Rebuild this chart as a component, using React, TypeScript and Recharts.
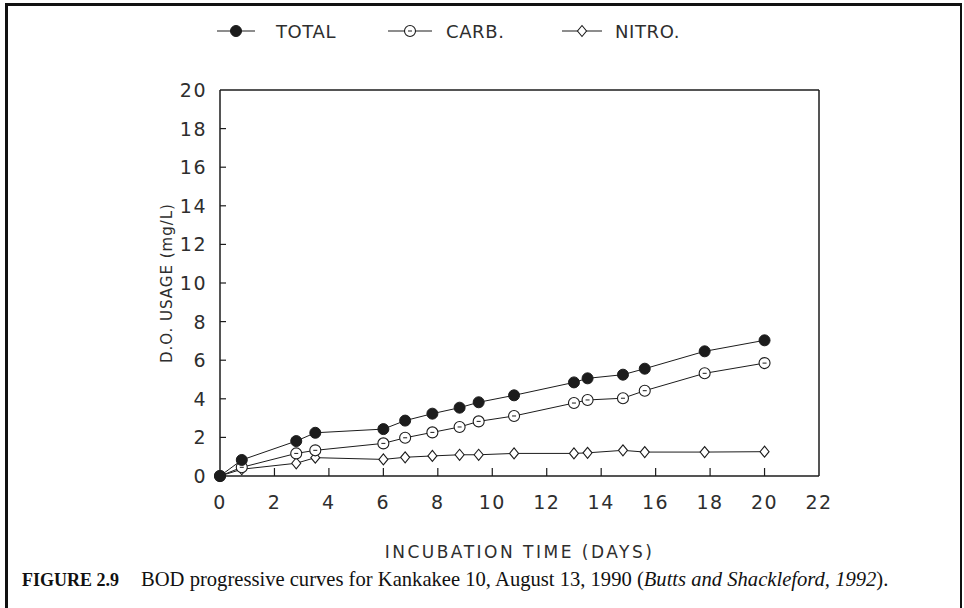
import { LineChart, Line, XAxis, YAxis, ReferenceLine, Label } from "recharts";

const days = [0, 0.8, 2.8, 3.5, 6.0, 6.8, 7.8, 8.8, 9.5, 10.8, 13.0, 13.5, 14.8, 15.6, 17.8, 20.0];
const total = [0, 0.83, 1.81, 2.24, 2.43, 2.87, 3.23, 3.54, 3.82, 4.18, 4.85, 5.06, 5.25, 5.56, 6.46, 7.03];
const carb = [0, 0.45, 1.17, 1.33, 1.69, 1.98, 2.26, 2.54, 2.83, 3.11, 3.78, 3.94, 4.03, 4.42, 5.32, 5.85];
const nitro = [0, 0.35, 0.66, 0.95, 0.86, 0.97, 1.04, 1.1, 1.1, 1.17, 1.17, 1.2, 1.33, 1.24, 1.24, 1.26];

const xTicks = [0, 2, 4, 6, 8, 10, 12, 14, 16, 18, 20, 22];
const yTicks = [0, 2, 4, 6, 8, 10, 12, 14, 16, 18, 20];

const seriesNames = ["TOTAL", "CARB.", "NITRO."];

const data = days.map((d, i) => ({
  day: d,
  total: total[i],
  carb: carb[i],
  nitro: nitro[i],
}));

const INK = "#1c1c1c";
const TXT = "#2e2e2e";
const FONT = "'DejaVu Sans', sans-serif";

function FilledDot(props: any) {
  const { cx, cy } = props;
  if (cx == null || cy == null) return null;
  return <circle cx={cx} cy={cy} r={5.5} fill={INK} stroke={INK} />;
}

function OpenDot(props: any) {
  const { cx, cy } = props;
  if (cx == null || cy == null) return null;
  return (
    <g>
      <circle cx={cx} cy={cy} r={5.5} fill="#fff" stroke={INK} strokeWidth={1.1} />
      <line x1={cx - 2} y1={cy} x2={cx + 2} y2={cy} stroke={INK} strokeWidth={1} />
    </g>
  );
}

function Diamond(props: any) {
  const { cx, cy } = props;
  if (cx == null || cy == null) return null;
  return (
    <path
      d={`M${cx},${cy - 5.5} L${cx + 4.5},${cy} L${cx},${cy + 5.5} L${cx - 4.5},${cy} Z`}
      fill="#fff"
      stroke={INK}
      strokeWidth={1.1}
    />
  );
}

function XTick(props: any) {
  const { x, y, payload } = props;
  const v = payload.value;
  return (
    <g>
      {v !== 0 && v !== 22 && (
        <line x1={x} y1={y} x2={x} y2={y - 8} stroke={INK} strokeWidth={1.2} />
      )}
      <text x={x} y={y + 33} textAnchor="middle" fontSize={19} fontFamily={FONT} fill={TXT} letterSpacing={1.5}>
        {v}
      </text>
    </g>
  );
}

function YTick(props: any) {
  const { x, y, payload } = props;
  const v = payload.value;
  return (
    <g>
      {v !== 0 && v !== 20 && (
        <line x1={x} y1={y} x2={x + 6} y2={y} stroke={INK} strokeWidth={1.2} />
      )}
      <text x={x - 13} y={y + 7} textAnchor="end" fontSize={19} fontFamily={FONT} fill={TXT} letterSpacing={1.5}>
        {v}
      </text>
    </g>
  );
}

function LegendRow() {
  const items = [
    { name: seriesNames[0], x1: 217, x2: 255, tx: 276, dot: FilledDot },
    { name: seriesNames[1], x1: 388, x2: 432, tx: 446, dot: OpenDot },
    { name: seriesNames[2], x1: 562, x2: 602, tx: 615, dot: Diamond },
  ];
  const cy = 31;
  return (
    <svg width={964} height={60} style={{ position: "absolute", left: 0, top: 0 }}>
      {items.map((it) => {
        const Dot = it.dot;
        return (
          <g key={it.name}>
            <line x1={it.x1} y1={cy} x2={it.x2} y2={cy} stroke={INK} strokeWidth={1.1} />
            <Dot cx={(it.x1 + it.x2) / 2} cy={cy} />
            <text x={it.tx} y={cy + 7} fontSize={18} fontFamily={FONT} fill={TXT} letterSpacing={0.6}>
              {it.name}
            </text>
          </g>
        );
      })}
    </svg>
  );
}

export default function App() {
  return (
    <div style={{ position: "absolute", left: 0, top: 0, width: 964, height: 608, background: "#fff", overflow: "hidden" }}>
      <div
        style={{
          position: "absolute",
          left: 5,
          top: 3,
          width: 952,
          height: 620,
          borderLeft: "3px solid #111",
          borderTop: "3px solid #111",
          borderRight: "2px solid #111",
        }}
      />
      <LegendRow />
      <div style={{ position: "absolute", left: 0, top: 0 }}>
        <LineChart width={964} height={600} data={data} margin={{ top: 90, left: 160, right: 145, bottom: 84 }}>
          <XAxis
            dataKey="day"
            type="number"
            domain={[0, 22]}
            ticks={xTicks}
            interval={0}
            height={40}
            tickSize={0}
            tickMargin={0}
            tickLine={false}
            axisLine={{ stroke: INK, strokeWidth: 1.5 }}
            tick={<XTick />}
          >
            <Label
              content={(p: any) => {
                const vb = p.viewBox;
                return (
                  <text
                    x={vb.x + vb.width / 2}
                    y={vb.y + 82}
                    textAnchor="middle"
                    fontSize={17}
                    fontFamily={FONT}
                    fill={TXT}
                    letterSpacing={2.5}
                  >
                    INCUBATION TIME (DAYS)
                  </text>
                );
              }}
            />
          </XAxis>
          <YAxis
            type="number"
            domain={[0, 20]}
            ticks={yTicks}
            interval={0}
            width={60}
            tickSize={0}
            tickMargin={0}
            tickLine={false}
            axisLine={{ stroke: INK, strokeWidth: 1.5 }}
            tick={<YTick />}
          >
            <Label
              content={(p: any) => {
                const vb = p.viewBox;
                const cx = vb.x + 7;
                const cy = vb.y + vb.height / 2;
                return (
                  <text
                    x={cx}
                    y={cy}
                    transform={`rotate(-90 ${cx} ${cy})`}
                    textAnchor="middle"
                    dominantBaseline="central"
                    fontSize={15}
                    fontFamily={FONT}
                    fill={TXT}
                    letterSpacing={1}
                  >
                    D.O. USAGE (mg/L)
                  </text>
                );
              }}
            />
          </YAxis>
          <ReferenceLine y={20} stroke={INK} strokeWidth={1.5} />
          <ReferenceLine x={22} stroke={INK} strokeWidth={1.5} />
          <Line
            dataKey="nitro"
            name={seriesNames[2]}
            stroke={INK}
            strokeWidth={1}
            dot={<Diamond />}
            isAnimationActive={false}
            type="linear"
          />
          <Line
            dataKey="carb"
            name={seriesNames[1]}
            stroke={INK}
            strokeWidth={1}
            dot={<OpenDot />}
            isAnimationActive={false}
            type="linear"
          />
          <Line
            dataKey="total"
            name={seriesNames[0]}
            stroke={INK}
            strokeWidth={1}
            dot={<FilledDot />}
            isAnimationActive={false}
            type="linear"
          />
        </LineChart>
      </div>
      <div
        style={{
          position: "absolute",
          left: 22,
          top: 568,
          fontFamily: "'Liberation Serif', 'Times New Roman', serif",
          fontSize: 20.6,
          color: "#111",
          whiteSpace: "nowrap",
        }}
      >
        <b style={{ fontSize: 18 }}>FIGURE 2.9</b>
        <span style={{ marginLeft: 22 }}>
          BOD progressive curves for Kankakee 10, August 13, 1990 (<i>Butts and Shackleford, 1992</i>).
        </span>
      </div>
    </div>
  );
}
